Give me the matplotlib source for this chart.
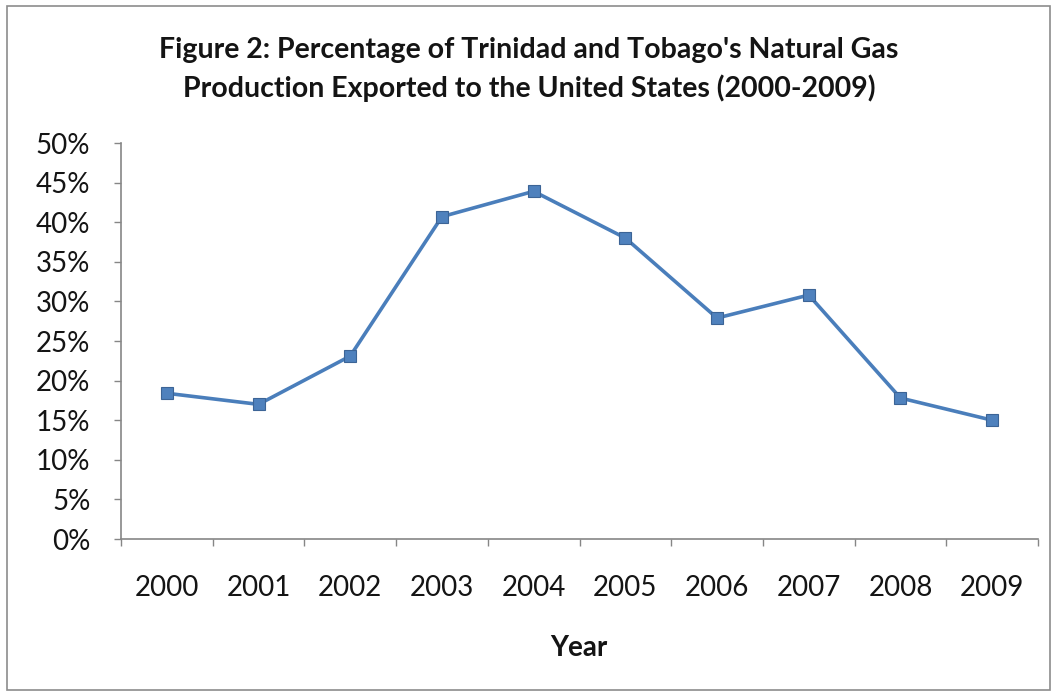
import matplotlib
matplotlib.use('Agg')
import matplotlib.pyplot as plt
from matplotlib.patches import Rectangle
from matplotlib.ticker import FuncFormatter, FixedLocator

# Share of natural gas production exported to the US, in percent
years = ['2000', '2001', '2002', '2003', '2004', '2005', '2006', '2007', '2008', '2009']
export_share = [18.4, 17.0, 23.1, 40.7, 43.9, 38.0, 27.9, 30.8, 17.8, 15.0]

plt.rcParams['font.family'] = ['Lato', 'DejaVu Sans']

fig = plt.figure(figsize=(10.57, 6.94), dpi=100)
fig.patch.set_facecolor('white')

# chart area frame
fig.patches.append(Rectangle((7 / 1057, 4 / 694), 1043 / 1057, 684 / 694,
                             transform=fig.transFigure, fill=False,
                             edgecolor='#8c8c8c', linewidth=1.2))

ax = fig.add_axes([121 / 1057, 1 - 539 / 694, (1038 - 121) / 1057, (539 - 143) / 694])

x = list(range(len(years)))
ax.plot(x, export_share, color='#4a7ebb', linewidth=2.6, marker='s',
        markersize=8.5, markerfacecolor='#4f81bd', markeredgecolor='#3c6496',
        markeredgewidth=0.8, clip_on=False)

ax.set_xlim(-0.5, len(years) - 0.5)
ax.set_ylim(0, 50)
ax.set_yticks(range(0, 51, 5))
ax.yaxis.set_major_formatter(FuncFormatter(lambda v, p: f'{v:.0f}%'))

# category ticks sit between the years, labels centred under each point
ax.xaxis.set_major_locator(FixedLocator([i - 0.5 for i in range(len(years) + 1)]))
ax.xaxis.set_minor_locator(FixedLocator(x))
ax.set_xticklabels([], minor=False)
ax.set_xticklabels(years, minor=True)
ax.tick_params(axis='x', which='minor', length=0, pad=26, labelsize=20, labelcolor='#141414')
ax.tick_params(axis='x', which='major', direction='out', length=5, color='#868686', width=1)
ax.tick_params(axis='y', direction='out', length=5, color='#868686', width=1,
               pad=17, labelsize=20, labelcolor='#141414')

for side in ('top', 'right'):
    ax.spines[side].set_visible(False)
for side in ('left', 'bottom'):
    ax.spines[side].set_color('#868686')
    ax.spines[side].set_linewidth(1.2)

fig.text(529 / 1057, 1 - 50 / 694, "Figure 2: Percentage of Trinidad and Tobago's Natural Gas",
         ha='center', va='center', fontsize=20.5, fontweight='bold', color='#141414')
fig.text(529 / 1057, 1 - 88 / 694, "Production Exported to the United States (2000-2009)",
         ha='center', va='center', fontsize=20.5, fontweight='bold', color='#141414')
fig.text(579 / 1057, 1 - 648 / 694, 'Year', ha='center', va='center',
         fontsize=20, fontweight='bold', color='#141414')

plt.savefig('out.png', dpi=100, facecolor='white')
plt.close()
